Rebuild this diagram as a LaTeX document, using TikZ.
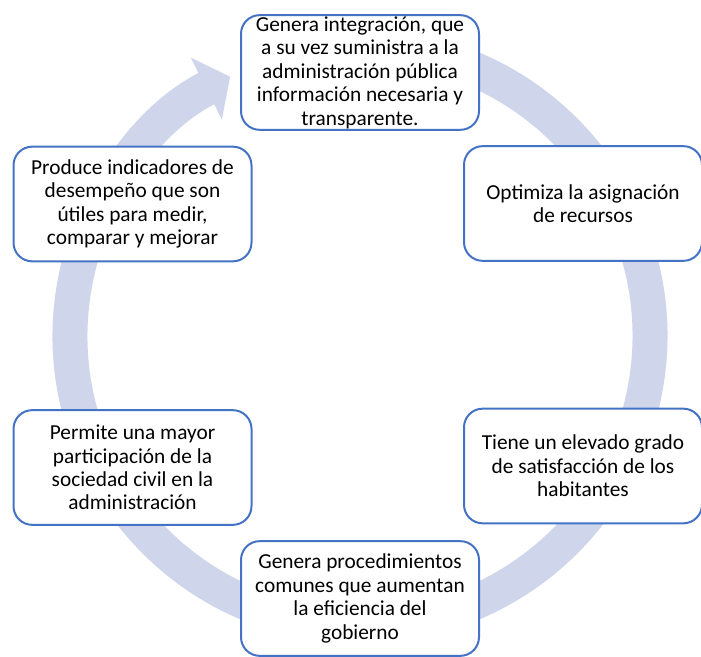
\documentclass[tikz,border=0pt]{standalone}
\usepackage{fontspec}
\setmainfont{Carlito}
\usepackage{tikz}
\usetikzlibrary{arrows.meta,positioning}
\usepackage{xcolor}
\definecolor{cycblue}{RGB}{68,114,196}
\definecolor{cycring}{RGB}{207,213,234}
\tikzstyle{ringarrow} = [line width=26.25pt, color=cycring, -{Triangle[length=20pt, width=51pt]}]
\tikzstyle{stagebox} = [rectangle, rounded corners=14pt, draw=cycblue, line width=1.5pt, fill=white, minimum width=178.5pt, minimum height=86pt, inner xsep=2pt, inner ysep=0pt, align=center, font=\fontsize{16}{17.6}\selectfont]

\begin{document}
\begin{tikzpicture}[x=0.75pt, y=-0.75pt]
\useasboundingbox (0,0) rectangle (701,657);
% Cycle ring
\coordinate (hub) at (360,336);
\draw[ringarrow] (hub) ++(-80:290) arc[start angle=-80, end angle=243.4, radius=290];

% Stages
\node[stagebox] (integ) at (360,72.5) {Genera integración, que\\a su vez suministra a la\\administración pública\\información necesaria y\\transparente.};
\node[stagebox] (optim) at (583,203.5) {Optimiza la asignación\\de recursos};
\node[stagebox] (satisf) at (583,466) {Tiene un elevado grado\\de satisfacción de los\\habitantes};
\node[stagebox] (proced) at (360,598.5) {Genera procedimientos\\comunes que aumentan\\la eficiencia del\\gobierno};
\node[stagebox] (particip) at (132.5,467.5) {Permite una mayor\\participación de la\\sociedad civil en la\\administración};
\node[stagebox] (indic) at (132.5,204) {Produce indicadores de\\desempeño que son\\útiles para medir,\\comparar y mejorar};
\end{tikzpicture}
\end{document}
